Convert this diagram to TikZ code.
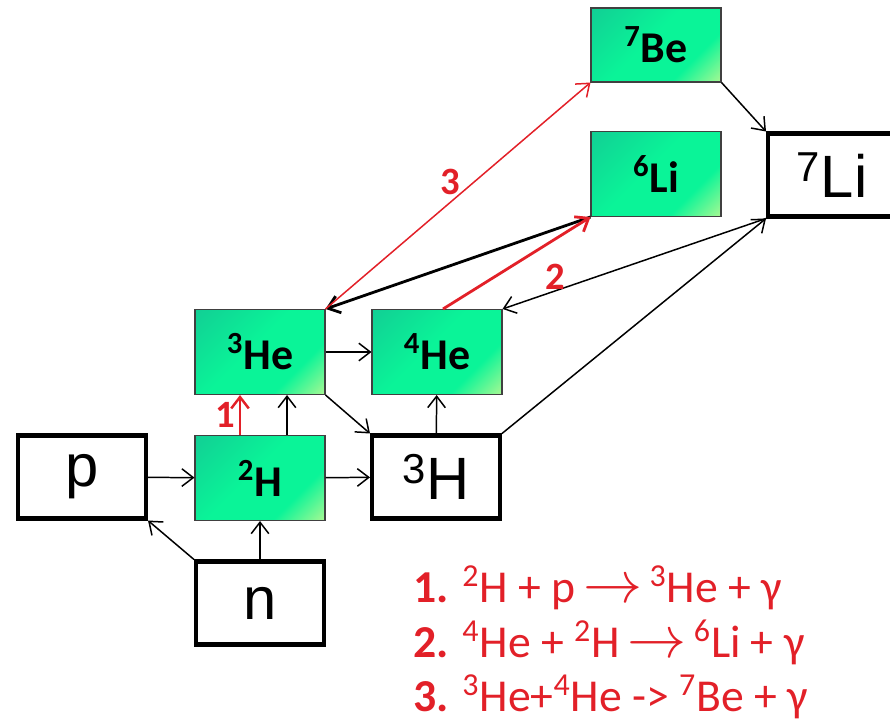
\documentclass[tikz,border=0pt]{standalone}
\usepackage{fontspec}
\setmainfont{Carlito}
\newfontfamily\arialfont{Liberation Sans}
\usetikzlibrary{arrows.meta,calc}
\definecolor{isoA}{RGB}{18,204,148}
\definecolor{isoB}{RGB}{10,244,152}
\definecolor{isoC}{RGB}{210,250,145}
\definecolor{rxred}{RGB}{226,32,40}
\pgfdeclarehorizontalshading{isofill}{100bp}{color(0bp)=(isoA); color(12bp)=(isoA); color(46bp)=(isoB); color(68bp)=(isoB); color(90bp)=(isoC); color(100bp)=(isoC)}
\newcommand{\rxto}{\,\scalebox{1.35}{$\rightarrow$}\,}

\begin{document}
\begin{tikzpicture}[x=0.02cm, y=-0.02cm,
    iso/.style={draw=black!75, line width=0.6pt, shading=isofill, shading angle=-45, minimum width=2.6cm, minimum height=1.7cm, inner sep=0pt, font=\fontsize{25}{29}\selectfont\bfseries},
    nuc/.style={draw, line width=2.3pt, fill=white, minimum width=2.56cm, minimum height=1.66cm, inner sep=0pt, font=\arialfont\fontsize{34}{40}\selectfont},
    arr/.style={-{Straight Barb[length=6.5pt,width=10pt]}, line width=0.85pt},
    rarr/.style={arr, draw=rxred},
    rlbl/.style={text=rxred, font=\fontsize{22}{26}\selectfont\bfseries, inner sep=2pt},
    rxn/.style={text=rxred, anchor=base west, inner sep=0pt, font=\fontsize{26}{30}\selectfont}
]
\useasboundingbox (0,0) rectangle (890,724);

\node[nuc] (p) at (82,477) {p};
\node[nuc] (n) at (260,603) {n};
\node[iso] (h2) at (260,478) {\textsuperscript{2}H};
\node[nuc] (h3) at (436,477) {\textsuperscript{3}H};
\node[iso] (he3) at (260,352) {\textsuperscript{3}He};
\node[iso] (he4) at (437,352) {\textsuperscript{4}He};
\node[iso, minimum height=1.48cm] (be7) at (656,45) {\textsuperscript{7}Be};
\node[iso] (li6) at (656,174) {\textsuperscript{6}Li};
\node[nuc] (li7) at (832,175) {\textsuperscript{7}Li};

\node[rxn] (r1) at (413,602) {\textbf{1.} \textsuperscript{2}H + p\rxto\textsuperscript{3}He + γ};
\node[rxn] (r2) at (413,657) {\textbf{2.} \textsuperscript{4}He + \textsuperscript{2}H\rxto\textsuperscript{6}Li + γ};
\node[rxn] (r3) at (413,711) {\textbf{3.} \textsuperscript{3}He+\textsuperscript{4}He -> \textsuperscript{7}Be + γ};

% black links
\draw[arr] (p) -- (h2);
\draw[arr] (n.north west) -- (p.south east);
\draw[arr] (n.north) -- (n.north |- h2.south);
\draw[arr] (h2) -- (h3);
\draw[arr] ($(h2.north)+(27,0)$) -- ($(he3.south)+(27,0)$);
\draw[arr] (he3) -- (he4);
\draw[arr] (he3.south east) -- (h3.north west);
\draw[arr] (h3) -- (he4);
\draw[arr] (h3.north east) -- (li7.south west);
\draw[arr, {Straight Barb[length=6.5pt,width=10pt]}-] (he4.north east) -- (li7.south west);
\draw[arr, line width=1.6pt] (li6.south west) -- (he3.north east);
\draw[arr] (be7.south east) -- (li7.north west);

% reactions
\draw[rarr, line width=1.4pt] ($(h2.north)+(-20,0)$) -- node[rlbl, left] {1} ($(he3.south)+(-20,0)$);
\draw[rarr, line width=1.6pt] ($(he4.north)+(6,0)$) -- node[rlbl, pos=0.66, below right, yshift=-6pt] {2} (li6.south west);
\draw[rarr] (he3.north east) -- node[rlbl, pos=0.47, above=2pt] {3} (be7.south west);
\end{tikzpicture}
\end{document}
